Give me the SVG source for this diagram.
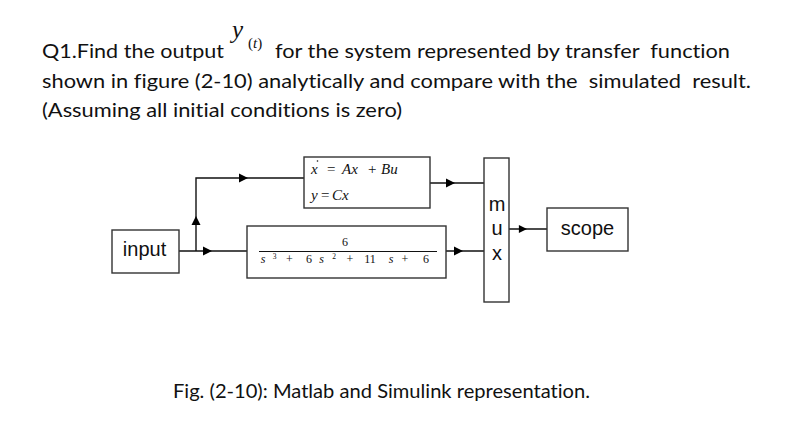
<svg xmlns="http://www.w3.org/2000/svg" width="791" height="435" viewBox="0 0 791 435">
<style>
.q{font-family:Lato,"Open Sans","Liberation Sans",sans-serif;font-size:19px;fill:#111;font-variant-ligatures:none}
.bx{fill:#fff;stroke:#333;stroke-width:1.4}
.lbl{font-family:"Liberation Sans",Arial,sans-serif;font-size:20px;fill:#111;text-anchor:middle}
.m{font-family:"Liberation Serif","Times New Roman",serif;fill:#111}
.ln{fill:none;stroke:#111;stroke-width:1.4}
</style>
<defs>
<path id="ah" d="M0,0 L-9,-4.5 L-9,4.5 Z" fill="#000"/>
</defs>
<rect width="791" height="435" fill="#fff"/>
<g id="question">
<text class="q" x="42" y="58" textLength="182" lengthAdjust="spacingAndGlyphs">Q1.Find the output</text>
<text class="m" x="232" y="38" font-size="25" font-style="italic" fill="#0d0d26">y</text>
<text class="m" x="248" y="48" font-size="15" fill="#0d0d26">(<tspan font-style="italic">t</tspan>)</text>
<text class="q" x="275" y="58" textLength="455" lengthAdjust="spacingAndGlyphs" xml:space="preserve">for the system represented by transfer  function</text>
<text class="q" x="42" y="88" textLength="709" lengthAdjust="spacingAndGlyphs" xml:space="preserve">shown in figure (2-10) analytically and compare with the  simulated  result.</text>
<text class="q" x="42" y="117" textLength="360" lengthAdjust="spacingAndGlyphs">(Assuming all initial conditions is zero)</text>
</g>
<g id="connectors">
<path class="ln" d="M179,251 H247"/>
<path class="ln" d="M196,251 V178 H304"/>
<path class="ln" d="M430,183 H484"/>
<path class="ln" d="M446,251 H484"/>
<path class="ln" d="M509,229 H547"/>
<use href="#ah" transform="translate(212,251)"/>
<use href="#ah" transform="translate(196,216) rotate(-90)"/>
<use href="#ah" transform="translate(248,178)"/>
<use href="#ah" transform="translate(455,183)"/>
<use href="#ah" transform="translate(463,251)"/>
<use href="#ah" transform="translate(527,229) scale(0.9)"/>
</g>
<g id="input">
<rect class="bx" x="112" y="230" width="67" height="43"/>
<text class="lbl" x="144.5" y="256" font-size="20.5">input</text>
</g>
<g id="statespace">
<rect class="bx" x="304" y="157" width="126" height="51"/>
<text class="m" x="311" y="174" font-size="15" font-style="italic">x</text>
<circle cx="317.5" cy="161" r="0.8" fill="#111"/>
<text class="m" x="327" y="174" font-size="15">=</text>
<text class="m" x="342" y="174" font-size="15" font-style="italic">Ax</text>
<text class="m" x="368" y="174" font-size="15">+</text>
<text class="m" x="381" y="174" font-size="15" font-style="italic">Bu</text>
<text class="m" x="311" y="200" font-size="15" font-style="italic">y</text>
<text class="m" x="321" y="200" font-size="15">=</text>
<text class="m" x="332" y="200" font-size="15" font-style="italic">Cx</text>
</g>
<g id="transferfcn">
<rect class="bx" x="247" y="226" width="199" height="52"/>
<text class="m" x="345" y="246" font-size="12" text-anchor="middle">6</text>
<line x1="259" y1="251.5" x2="437" y2="251.5" stroke="#111" stroke-width="1.2"/>
<g class="m" font-size="12" text-anchor="middle">
<text x="263" y="263" font-style="italic">s</text>
<text x="274.5" y="259" font-size="7.5">3</text>
<text x="289.5" y="263">+</text>
<text x="309" y="263">6</text>
<text x="321.5" y="263" font-style="italic">s</text>
<text x="334" y="259" font-size="7.5">2</text>
<text x="350" y="263">+</text>
<text x="370" y="263">11</text>
<text x="391" y="263" font-style="italic">s</text>
<text x="405" y="263">+</text>
<text x="426" y="263">6</text>
</g>
</g>
<g id="mux">
<rect class="bx" x="484" y="158" width="25" height="144"/>
<text class="lbl" x="497" y="211">m</text>
<text class="lbl" x="497" y="235">u</text>
<text class="lbl" x="497" y="260">x</text>
</g>
<g id="scope">
<rect class="bx" x="547" y="208" width="81" height="43"/>
<text class="lbl" x="587.5" y="235" font-size="20.5">scope</text>
</g>
<g id="caption">
<text class="q" x="173" y="398" textLength="417" lengthAdjust="spacingAndGlyphs">Fig. (2-10): Matlab and Simulink representation.</text>
</g>
</svg>
